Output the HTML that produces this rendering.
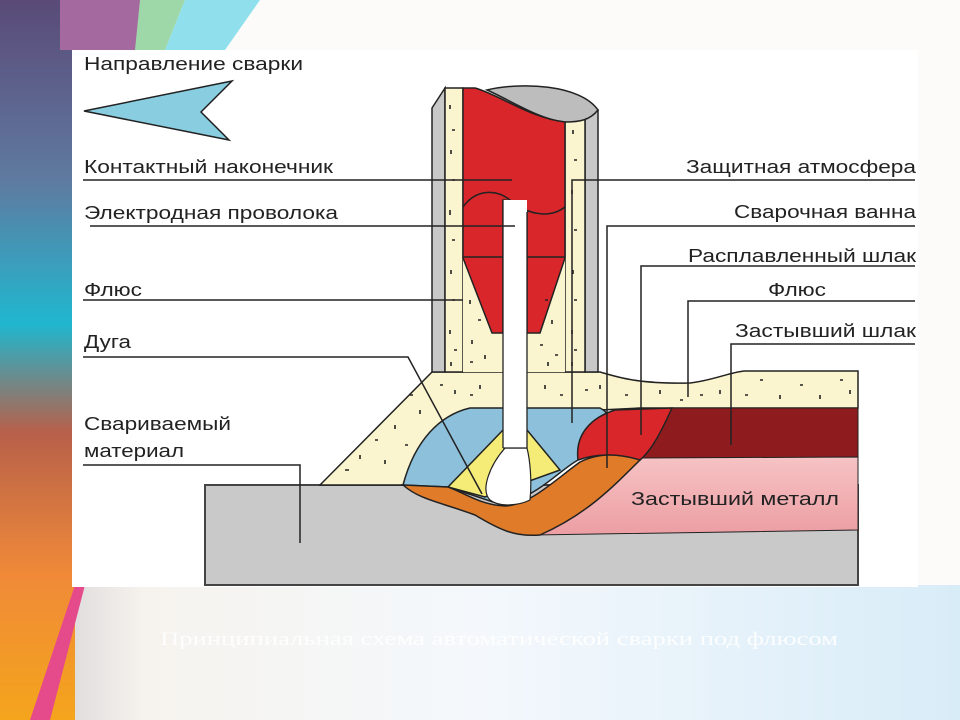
<!DOCTYPE html>
<html><head><meta charset="utf-8"><style>
html,body{margin:0;padding:0;width:960px;height:720px;overflow:hidden;background:#fff}
svg{display:block}
text{font-family:"Liberation Sans",Arial,sans-serif;fill:#222}
</style></head><body>
<svg width="960" height="720" viewBox="0 0 960 720" xmlns="http://www.w3.org/2000/svg">
<defs>
<linearGradient id="lg" x1="0" y1="0" x2="0" y2="1">
<stop offset="0" stop-color="#5a4a78"/><stop offset="0.25" stop-color="#5f7aa0"/><stop offset="0.45" stop-color="#20b7cf"/><stop offset="0.6" stop-color="#b7604a"/><stop offset="0.8" stop-color="#f08a38"/><stop offset="1" stop-color="#f4a51c"/>
</linearGradient>
<linearGradient id="bg" x1="0" y1="0" x2="1" y2="0">
<stop offset="0" stop-color="#c9c6cc"/><stop offset="0.15" stop-color="#f6f3ee"/><stop offset="0.5" stop-color="#f4f8fc"/><stop offset="1" stop-color="#d8ecf8"/>
</linearGradient>
<linearGradient id="pk" x1="0" y1="0" x2="0" y2="1">
<stop offset="0" stop-color="#f6c3c4"/><stop offset="1" stop-color="#ec9ea3"/>
</linearGradient>
</defs>
<rect width="960" height="720" fill="#fdfbfa"/>
<rect y="585" width="960" height="135" fill="url(#bg)"/>
<rect width="75" height="720" fill="url(#lg)"/>
<polygon points="60,0 150,0 140,50 60,50" fill="#a46aa0"/>
<polygon points="140,0 185,0 165,50 135,50" fill="#9fd8a8"/>
<polygon points="185,0 260,0 225,50 165,50" fill="#8fe0ec"/>
<polygon points="75,585 85,585 50,720 30,720" fill="#e54a8a"/>
<rect x="72" y="50" width="846" height="537" fill="#fff"/>

<polygon points="84,111 232,81 201,112 229,140" fill="#89cde0" stroke="#222" stroke-width="1.5"/>

<rect x="205" y="485" width="653" height="100" fill="#c9c9c9" stroke="#444" stroke-width="2"/>
<path d="M320,485 L432,372 L600,372 C620,378 640,384 690,383 C715,380 730,372 745,371 L858,371 L858,408 L640,408 L600,410 L403,485 Z" fill="#fbf5cf" stroke="#222" stroke-width="1.5"/>
<path d="M672,408 L858,408 L858,457 L640,460 Z" fill="#8e1c1f" stroke="#222" stroke-width="1"/>
<path d="M640,458 L858,457 L858,530 L535,535 L640,458 Z" fill="url(#pk)" stroke="#222" stroke-width="1"/>
<path d="M403,485 C415,440 440,415 470,408 L600,408 C608,412 610,418 605,422 L578,460 C560,470 545,490 505,506 L448,487 Z" fill="#8dc0da" stroke="#222" stroke-width="1.5"/>
<path d="M578,460 C575,435 590,418 615,410 L672,408 C662,430 652,450 640,460 C620,455 600,452 578,460 Z" fill="#d8262a" stroke="#222" stroke-width="1.5"/>
<path d="M503,430 L448,487 L485,497 L560,470 L527,430 Z" fill="#f5ec78" stroke="#222" stroke-width="1.5"/>
<path d="M403,485 L448,487 C465,493 480,505 505,506 C530,505 555,480 580,462 C600,452 620,454 640,460 C610,490 585,515 540,535 C515,537 500,530 475,515 C440,502 420,500 403,485 Z" fill="#e07b2a" stroke="#222" stroke-width="1.5"/>
<path d="M505,448 C490,465 480,490 490,500 C500,508 520,505 530,500 C532,480 530,460 527,448 Z" fill="#fff" stroke="#222" stroke-width="1.2"/>

<path d="M432,108 L445,88 L445,372 L432,372 Z" fill="#c8c8c8" stroke="#222" stroke-width="1.5"/>
<path d="M585,110 L598,110 L598,372 L585,372 Z" fill="#c8c8c8" stroke="#222" stroke-width="1.5"/>
<path d="M445,88 L463,88 L463,372 L445,372 Z" fill="#fbf5cf" stroke="#222" stroke-width="1.5"/>
<path d="M565,120 L585,112 L585,372 L565,372 Z" fill="#fbf5cf" stroke="#222" stroke-width="1.5"/>
<path d="M463,258 L492,333 L503,333 L503,372 L463,372 Z" fill="#fbf5cf"/>
<path d="M565,258 L540,333 L527,333 L527,372 L565,372 Z" fill="#fbf5cf"/>
<path d="M487,90 C520,82 580,84 598,110 C590,120 580,122 565,122 C540,120 510,100 487,90 Z" fill="#bdbdbd" stroke="#222" stroke-width="1.5"/>
<path d="M463,88 L475,88 C500,95 530,118 565,122 L565,258 L540,333 L527,333 L527,212 C520,205 512,200 503,200 L503,333 L492,333 L463,258 Z" fill="#d8262a" stroke="#222" stroke-width="1.5"/>
<path d="M463,207 C475,190 495,188 510,200 C525,213 548,220 565,207" fill="none" stroke="#222" stroke-width="1.5"/>
<line x1="463" y1="257" x2="503" y2="257" stroke="#222" stroke-width="1.5"/>
<line x1="527" y1="257" x2="565" y2="257" stroke="#222" stroke-width="1.5"/>
<rect x="503" y="200" width="24" height="248" fill="#fff"/>
<path d="M503,200 L503,448 M527,212 L527,448 M503,448 L527,448" stroke="#222" stroke-width="1.3" fill="none"/>

<g stroke="#222" stroke-width="1.6">
<path d="M450,105v4M452,130h3M451,150v4M452,180h3M450,210v5M452,240h3M451,270v4M452,300h3M450,330v4M454,350h3M451,362v4
M573,130v4M574,160h3M572,190v4M574,230h3M573,270v4M574,300h3M572,330v4M574,350h3M572,362v4
M470,300v4M478,320h3M472,340v4M485,355v4M470,362h3M545,300h3M552,320v4M540,345h3M555,355h3M548,362v4
M345,470h4M360,455v4M375,440h3M385,460v4M395,425v4M405,445h3M410,395h3M420,410v4M440,385h3M455,390v4M470,395h3M480,385v4M545,385v4M560,395h3M585,390h3M600,385v4M625,395h3M660,390v4M700,395h3M720,390v4M760,380h3M780,395v4M800,385h3M820,395v4M840,380h3M850,390v4M745,395h3M680,400h3"/>
</g>

<g stroke="#222" stroke-width="1.5" fill="none">
<path d="M83,180H512"/>
<path d="M90,226H515"/>
<path d="M83,300H463"/>
<path d="M83,357H408L482,494"/>
<path d="M83,465H300V543"/>
<path d="M915,180H572V423"/>
<path d="M915,226H607V468"/>
<path d="M915,266H641V435"/>
<path d="M915,301H688V397"/>
<path d="M915,344H731V445"/>
</g>

<g font-size="18">
<text x="84" y="70" textLength="219" lengthAdjust="spacingAndGlyphs">Направление сварки</text>
<text x="84" y="173" textLength="249" lengthAdjust="spacingAndGlyphs">Контактный наконечник</text>
<text x="84" y="219" textLength="254" lengthAdjust="spacingAndGlyphs">Электродная проволока</text>
<text x="84" y="296" textLength="58" lengthAdjust="spacingAndGlyphs">Флюс</text>
<text x="84" y="348" textLength="47" lengthAdjust="spacingAndGlyphs">Дуга</text>
<text x="84" y="430" textLength="147" lengthAdjust="spacingAndGlyphs">Свариваемый</text>
<text x="84" y="457" textLength="100" lengthAdjust="spacingAndGlyphs">материал</text>
<text x="686" y="173" textLength="230" lengthAdjust="spacingAndGlyphs">Защитная атмосфера</text>
<text x="734" y="218" textLength="182" lengthAdjust="spacingAndGlyphs">Сварочная ванна</text>
<text x="688" y="262" textLength="228" lengthAdjust="spacingAndGlyphs">Расплавленный шлак</text>
<text x="768" y="296" textLength="58" lengthAdjust="spacingAndGlyphs">Флюс</text>
<text x="735" y="337" textLength="181" lengthAdjust="spacingAndGlyphs">Застывший шлак</text>
<text x="631" y="505" textLength="208" lengthAdjust="spacingAndGlyphs">Застывший  металл</text>
</g>
<text x="160" y="645" font-size="19" style="fill:#ffffff;font-family:'Liberation Serif',serif" textLength="678" lengthAdjust="spacingAndGlyphs" opacity="0.9">Принципиальная схема автоматической сварки под флюсом</text>
</svg>
</body></html>
